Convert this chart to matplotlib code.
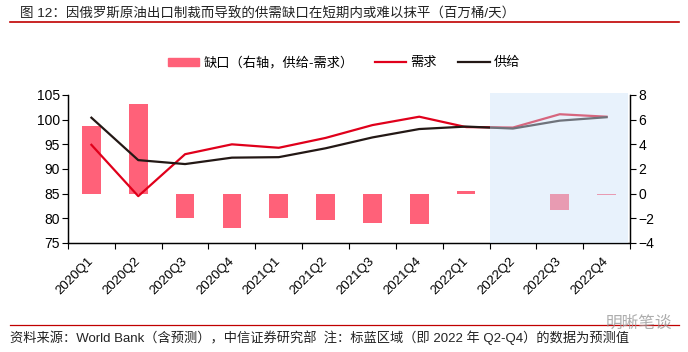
import numpy as np
import matplotlib
matplotlib.use("Agg")
from matplotlib import pyplot as plt
from matplotlib.lines import Line2D
from matplotlib.patches import Patch

plt.rcParams['font.family'] = ['Liberation Sans', 'Noto Sans CJK SC', 'DejaVu Sans']

quarters = ["2020Q1", "2020Q2", "2020Q3", "2020Q4", "2021Q1", "2021Q2",
            "2021Q3", "2021Q4", "2022Q1", "2022Q2", "2022Q3", "2022Q4"]
demand = [94.9, 84.5, 93.0, 95.0, 94.3, 96.3, 98.9, 100.6, 98.5, 98.4, 101.1, 100.6]
supply = [100.4, 91.8, 91.0, 92.3, 92.4, 94.2, 96.4, 98.1, 98.6, 98.2, 99.8, 100.5]
gap = [5.5, 7.3, -2.0, -2.8, -1.95, -2.1, -2.35, -2.45, 0.2, 0.0, -1.35, -0.1]

title = "图 12：因俄罗斯原油出口制裁而导致的供需缺口在短期内或难以抹平（百万桶/天）"
source = "资料来源：World Bank（含预测），中信证券研究部  注：标蓝区域（即 2022 年 Q2-Q4）的数据为预测值"

RED = "#e0001b"
BLACK = "#231815"
BAR = "#ff6179"

fig = plt.figure(figsize=(6.88, 3.52), dpi=100)
ax = fig.add_axes([68 / 688, 1 - 243 / 352, 562 / 688, 148 / 352])
ax2 = ax.twinx()
ax.set_zorder(ax2.get_zorder() + 1)
ax.patch.set_visible(False)

x = np.arange(len(quarters))

# bars on right axis
ax2.bar(x, gap, width=0.4, color=BAR, zorder=2)
ax2.set_ylim(-4, 8)
ax2.set_yticks(np.arange(-4, 9, 2))

# lines on left axis
ax.plot(x, demand, color=RED, lw=1.6, zorder=3)
ax.plot(x, supply, color=BLACK, lw=1.6, zorder=3)
ax.set_ylim(75, 105)
ax.set_yticks(np.arange(75, 106, 5))
ax.set_xlim(-0.5, len(quarters) - 0.5)

# forecast region drawn over everything
ax.axvspan(8.5, 11.45, ymin=0, ymax=1.013, color="#cce3f9", alpha=0.45,
           lw=0, zorder=10, clip_on=False)

# x ticks at category boundaries, labels at centres
ax.set_xticks(np.arange(-0.5, len(quarters), 1))
ax.set_xticklabels([])
ax.set_xticks(x, minor=True)
ax.set_xticklabels(quarters, minor=True, rotation=45, ha="right", va="center",
                   rotation_mode="anchor", fontsize=9.5)
ax.tick_params(axis="x", which="minor", length=0, pad=12)
ax.tick_params(axis="x", which="major", length=4, direction="out")
ax.tick_params(axis="y", length=4, labelsize=10, pad=2)
ax2.tick_params(axis="y", length=4, labelsize=10, pad=2)

for a in (ax, ax2):
    a.spines["top"].set_visible(False)
    for s in ("left", "right", "bottom"):
        a.spines[s].set_color("black")
        a.spines[s].set_linewidth(0.9)

handles = [Patch(color=BAR), Line2D([], [], color=RED, lw=1.6),
           Line2D([], [], color=BLACK, lw=1.6)]
labels = ["缺口（右轴，供给-需求）", "需求", "供给"]
fig.legend(handles, labels, loc="center", bbox_to_anchor=(0.5, 1 - 63 / 352),
           ncol=3, frameon=False, fontsize=9.5, handlelength=2.4,
           handleheight=0.6, handletextpad=0.3, columnspacing=1.6)

# title, rules and footnote
fig.text(20 / 688, 1 - 14 / 352, title, fontsize=9.7, va="center",
         ha="left", color="#222222")
fig.add_artist(Line2D([10 / 688, 679 / 688], [1 - 22 / 352, 1 - 22 / 352],
                      color="#c00000", lw=1.2))
fig.add_artist(Line2D([10 / 688, 679 / 688], [1 - 325 / 352, 1 - 325 / 352],
                      color="#c00000", lw=0.9))
fig.text(10 / 688, 1 - 338 / 352, source, fontsize=9.5, va="center",
         ha="left", color="#222222")
fig.text(672 / 688, 1 - 323 / 352, "明晰笔谈", fontsize=12, va="center",
         ha="right", color="#999999", alpha=0.8)

fig.savefig("out.png", dpi=100)
